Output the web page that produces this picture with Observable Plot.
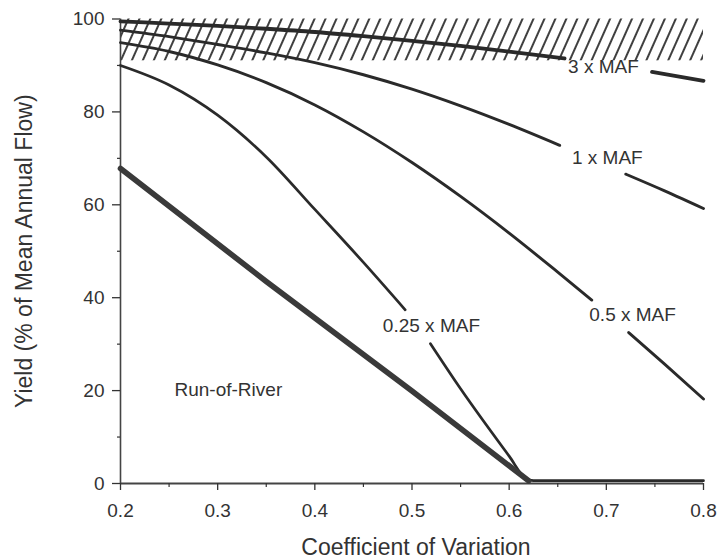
<!DOCTYPE html>
<html><head><meta charset="utf-8">
<script src="https://cdn.jsdelivr.net/npm/d3@7"></script>
<script src="https://cdn.jsdelivr.net/npm/@observablehq/plot@0.6"></script>
<style>
html,body{margin:0;padding:0;background:#fff;}
</style>
</head><body><div id="chart"></div>
<script>
// ---- data ----
const seriesNames = ["3 x MAF", "1 x MAF", "0.5 x MAF", "0.25 x MAF", "Run-of-River"];

const cv3    = [0.2, 0.25, 0.3, 0.35, 0.4, 0.45, 0.5, 0.55, 0.6, 0.657, 0.7, 0.747, 0.8];
const yield3 = [99.5, 99.0, 98.5, 97.9, 97.2, 96.3, 95.3, 94.2, 93.0, 91.5, null, 88.6, 86.7];

const cv1    = [0.2, 0.25, 0.3, 0.35, 0.4, 0.45, 0.5, 0.55, 0.6, 0.652, 0.686, 0.72, 0.76, 0.8];
const yield1 = [97.6, 96.2, 94.5, 92.7, 90.6, 88.0, 84.9, 81.3, 77.3, 72.8, null, 66.6, 63.0, 59.2];

const cv05    = [0.2, 0.25, 0.3, 0.35, 0.4, 0.45, 0.5, 0.55, 0.6, 0.65, 0.685, 0.705, 0.723, 0.76, 0.8];
const yield05 = [94.9, 93.0, 90.1, 86.3, 81.5, 75.7, 69.1, 61.8, 53.9, 45.5, 39.5, null, 32.5, 25.7, 18.2];

const cv025    = [0.2, 0.25, 0.3, 0.35, 0.4, 0.45, 0.493, 0.506, 0.519, 0.55, 0.6, 0.617, 0.625, 0.8];
const yield025 = [90.0, 85.8, 79.3, 70.3, 59.0, 47.6, 37.4, null, 30.1, 20.4, 5.9, 1.1, 0.6, 0.6];

const cvRoR    = [0.2, 0.35, 0.5, 0.62];
const yieldRoR = [67.8, 43.5, 19.9, 0.6];

const labelText  = ["3 x MAF", "1 x MAF", "0.5 x MAF", "0.25 x MAF", "Run-of-River"];
const labelCv    = [0.697, 0.701, 0.727, 0.520, 0.311];
const labelYield = [89.6, 70.0, 36.2, 34.0, 20.2];

const hatchCv    = [0.2, 0.8];
const hatchYield = [91, 100];

const xTicks = [0.2, 0.3, 0.4, 0.5, 0.6, 0.7, 0.8];
const xMinor = [0.25, 0.35, 0.45, 0.55, 0.65, 0.75];
const yTicks = [0, 20, 40, 60, 80, 100];
const yMinor = [10, 30, 50, 70, 90];

const xTitle = "Coefficient of Variation";
const yTitle = "Yield (% of Mean Annual Flow)";

// ---- build tables ----
const allCv = [cv3, cv1, cv05, cv025, cvRoR];
const allY = [yield3, yield1, yield05, yield025, yieldRoR];
const rows = [];
seriesNames.forEach((s, i) => {
  allCv[i].forEach((c, j) => rows.push({series: s, cv: c, yield: allY[i][j]}));
});
const labels = labelText.map((t, i) => ({text: t, cv: labelCv[i], yield: labelYield[i]}));
const hatch = [{x1: hatchCv[0], x2: hatchCv[1], y1: hatchYield[0], y2: hatchYield[1]}];

const widthOf = {"3 x MAF": 3.8, "1 x MAF": 2.9, "0.5 x MAF": 2.9, "0.25 x MAF": 2.7, "Run-of-River": 5.6};
const font = "Arial, 'Liberation Sans', Helvetica, sans-serif";
const ink = "#333";

const curveRows = rows.filter(d => d.series !== "Run-of-River");
const rorRows = rows.filter(d => d.series === "Run-of-River");

const plot = Plot.plot({
  width: 717,
  height: 559,
  marginLeft: 120,
  marginRight: 14,
  marginTop: 18.5,
  marginBottom: 76,
  x: {domain: [0.2, 0.8]},
  y: {domain: [0, 100]},
  style: {fontFamily: font, background: "#fff", color: ink, overflow: "visible"},
  marks: [
    Plot.rect(hatch, {x1: "x1", x2: "x2", y1: "y1", y2: "y2", fill: "url(#hatch)"}),
    Plot.ruleY([0], {stroke: "#444", strokeWidth: 1.8}),
    Plot.ruleX([0.2], {stroke: "#444", strokeWidth: 1.6}),
    ...seriesNames.filter(s => s !== "Run-of-River").map(s =>
      Plot.line(curveRows.filter(d => d.series === s), {
        x: "cv", y: "yield", stroke: "#2a2a2a", strokeWidth: widthOf[s], curve: "monotone-x"
      })
    ),
    Plot.line(rorRows, {x: "cv", y: "yield", stroke: "#3a3a3a", strokeWidth: widthOf["Run-of-River"], curve: "linear"}),
    Plot.axisX({ticks: xTicks, tickSize: 7, tickPadding: 13, tickFormat: d3.format(".1f"), fontSize: 19, label: null, stroke: ink, strokeWidth: 1.3, fill: ink}),
    Plot.axisX({ticks: xMinor, tickSize: 4, tickFormat: () => "", label: null, stroke: ink, strokeWidth: 1.2}),
    Plot.axisY({ticks: yTicks, tickSize: 8, tickPadding: 8, tickFormat: d3.format("d"), fontSize: 19, label: null, stroke: ink, strokeWidth: 1.3, fill: ink}),
    Plot.axisY({ticks: yMinor, tickSize: 3, tickFormat: () => "", label: null, stroke: ink, strokeWidth: 1.2}),
    Plot.text(labels, {x: "cv", y: "yield", text: "text", fontSize: 19, fill: ink, textAnchor: "middle", lineAnchor: "middle"}),
    Plot.text([xTitle], {frameAnchor: "bottom", dy: 64, dx: 4, fontSize: 23, fill: ink, textAnchor: "middle", lineAnchor: "middle"}),
    Plot.text([yTitle], {frameAnchor: "left", dx: -96, rotate: -90, fontSize: 23, fill: ink, textAnchor: "middle", lineAnchor: "middle"})
  ]
});

const ns = "http://www.w3.org/2000/svg";
const defs = document.createElementNS(ns, "defs");
defs.innerHTML = '<pattern id="hatch" patternUnits="userSpaceOnUse" width="10" height="10" patternTransform="rotate(24)"><line x1="5" y1="-1" x2="5" y2="11" stroke="#000" stroke-width="1.5"/></pattern>';
plot.insertBefore(defs, plot.firstChild);
document.getElementById("chart").appendChild(plot);
</script>
</body></html>
